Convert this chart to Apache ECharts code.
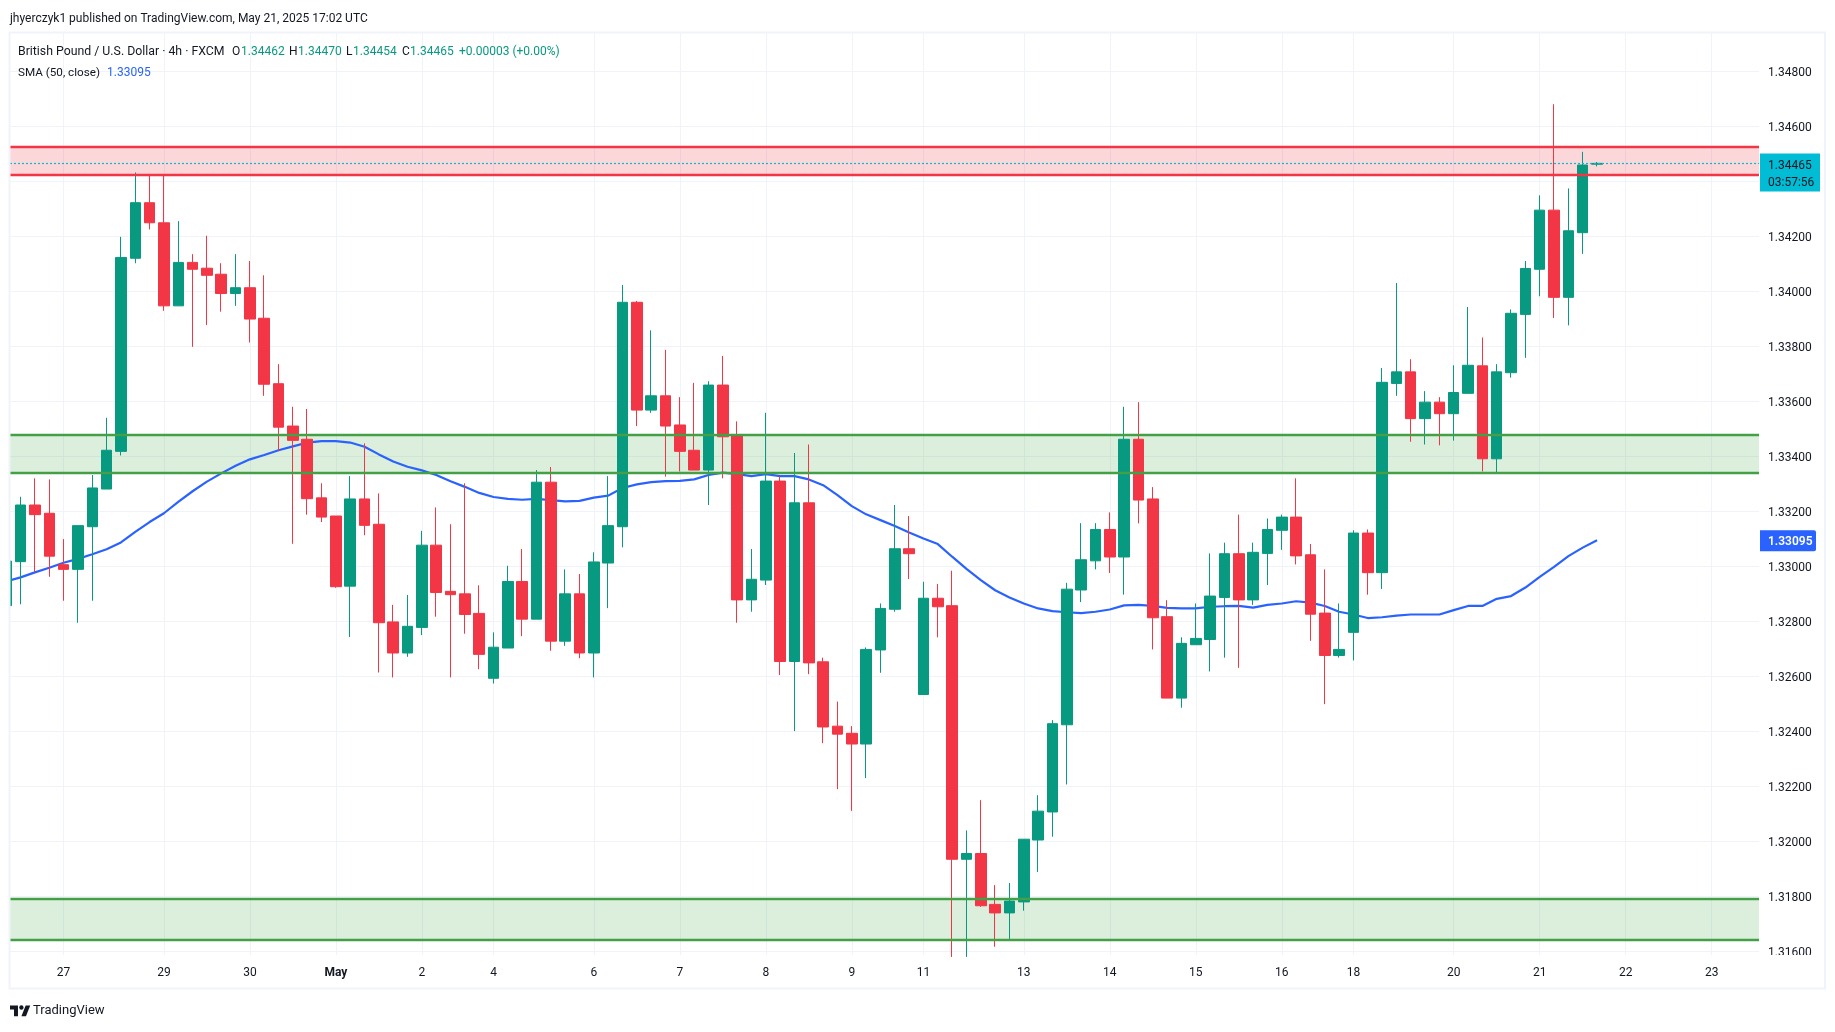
<!DOCTYPE html>
<html>
<head>
<meta charset="utf-8">
<title>GBPUSD 4h</title>
<style>
  html, body { margin: 0; padding: 0; background: #fff; }
  #chart { width: 1835px; height: 1032px; }
</style>
<script src="https://cdn.jsdelivr.net/npm/echarts@6/dist/echarts.min.js"></script>
</head>
<body>
<div id="chart"></div>
<script>
const opens = [
  1.32857, 1.33017, 1.33223, 1.33193, 1.33006, 1.32989, 1.33144, 1.33281, 1.33418, 1.34120,
  1.34322, 1.34249, 1.33947, 1.34105, 1.34084, 1.34062, 1.33992, 1.34013, 1.33902, 1.33664,
  1.33510, 1.33462, 1.33249, 1.33183, 1.32928, 1.33245, 1.33153, 1.32798, 1.32685, 1.32778,
  1.33077, 1.32909, 1.32900, 1.32829, 1.32593, 1.32703, 1.32945, 1.32808, 1.33306, 1.32728,
  1.32900, 1.32685, 1.33012, 1.33144, 1.33960, 1.33568, 1.33620, 1.33514, 1.33422, 1.33350,
  1.33659, 1.33475, 1.32878, 1.32950, 1.33310, 1.32654, 1.33231, 1.32653, 1.32419, 1.32393,
  1.32354, 1.32696, 1.32844, 1.33064, 1.32534, 1.32884, 1.32857, 1.31935, 1.31956, 1.31771,
  1.31740, 1.31780, 1.32005, 1.32107, 1.32424, 1.32914, 1.33020, 1.33134, 1.33034, 1.33462,
  1.33245, 1.32817, 1.32521, 1.32715, 1.32734, 1.32887, 1.33046, 1.32878, 1.33047, 1.33131,
  1.33179, 1.33042, 1.32830, 1.32676, 1.32760, 1.33121, 1.32977, 1.33665, 1.33707, 1.33537,
  1.33597, 1.33555, 1.33629, 1.33729, 1.33391, 1.33704, 1.33916, 1.34080, 1.34295, 1.33978,
  1.34213, 1.34462
];
const closes = [
  1.33019, 1.33223, 1.33188, 1.33037, 1.32989, 1.33148, 1.33285, 1.33422, 1.34123, 1.34322,
  1.34249, 1.33947, 1.34105, 1.34080, 1.34058, 1.33992, 1.34013, 1.33899, 1.33662, 1.33506,
  1.33458, 1.33246, 1.33179, 1.32926, 1.33245, 1.33149, 1.32795, 1.32685, 1.32782, 1.33077,
  1.32905, 1.32897, 1.32825, 1.32680, 1.32706, 1.32945, 1.32808, 1.33306, 1.32728, 1.32900,
  1.32685, 1.33016, 1.33148, 1.33960, 1.33568, 1.33620, 1.33510, 1.33418, 1.33350, 1.33659,
  1.33471, 1.32878, 1.32953, 1.33310, 1.32654, 1.33231, 1.32649, 1.32416, 1.32390, 1.32354,
  1.32698, 1.32847, 1.33064, 1.33046, 1.32884, 1.32853, 1.31935, 1.31956, 1.31766, 1.31740,
  1.31783, 1.32008, 1.32110, 1.32428, 1.32917, 1.33024, 1.33134, 1.33034, 1.33462, 1.33241,
  1.32813, 1.32521, 1.32720, 1.32738, 1.32892, 1.33046, 1.32878, 1.33051, 1.33134, 1.33179,
  1.33038, 1.32826, 1.32676, 1.32698, 1.33121, 1.32977, 1.33669, 1.33707, 1.33537, 1.33597,
  1.33555, 1.33632, 1.33731, 1.33391, 1.33707, 1.33920, 1.34083, 1.34295, 1.33978, 1.34220,
  1.34459, 1.34465
];
const lows = [
  1.32857, 1.32862, 1.32978, 1.32962, 1.32875, 1.32795, 1.32875, 1.33281, 1.33403, 1.34102,
  1.34225, 1.33929, 1.33947, 1.33798, 1.33877, 1.33926, 1.33947, 1.33814, 1.33620, 1.33419,
  1.33082, 1.33188, 1.33161, 1.32922, 1.32743, 1.33113, 1.32614, 1.32596, 1.32671, 1.32750,
  1.32817, 1.32596, 1.32755, 1.32626, 1.32574, 1.32703, 1.32746, 1.32808, 1.32693, 1.32711,
  1.32666, 1.32596, 1.32848, 1.33069, 1.33510, 1.33558, 1.33326, 1.33345, 1.33350, 1.33223,
  1.33320, 1.32795, 1.32835, 1.32932, 1.32605, 1.32401, 1.32608, 1.32357, 1.32190, 1.32111,
  1.32230, 1.32613, 1.32835, 1.32954, 1.32534, 1.32742, 1.31580, 1.31580, 1.31762, 1.31617,
  1.31645, 1.31748, 1.31889, 1.32017, 1.32207, 1.32870, 1.32989, 1.32976, 1.32897, 1.33156,
  1.32698, 1.32521, 1.32486, 1.32715, 1.32618, 1.32668, 1.32631, 1.32860, 1.32932, 1.33060,
  1.33007, 1.32729, 1.32499, 1.32668, 1.32658, 1.32897, 1.32918, 1.33620, 1.33453, 1.33443,
  1.33440, 1.33457, 1.33629, 1.33345, 1.33342, 1.33686, 1.33758, 1.33982, 1.33903, 1.33876,
  1.34136, 1.34454
];
const highs = [
  1.33019, 1.33253, 1.33320, 1.33316, 1.33099, 1.33148, 1.33332, 1.33540, 1.34198, 1.34432,
  1.34420, 1.34420, 1.34255, 1.34135, 1.34202, 1.34102, 1.34135, 1.34110, 1.34058, 1.33735,
  1.33580, 1.33572, 1.33302, 1.33183, 1.33328, 1.33447, 1.33265, 1.32860, 1.32896, 1.33129,
  1.33214, 1.33153, 1.33302, 1.32931, 1.32760, 1.33002, 1.33063, 1.33350, 1.33361, 1.32989,
  1.32972, 1.33051, 1.33328, 1.34023, 1.33965, 1.33858, 1.33787, 1.33615, 1.33667, 1.33673,
  1.33765, 1.33527, 1.33063, 1.33558, 1.33326, 1.33412, 1.33443, 1.32668, 1.32508, 1.32419,
  1.32705, 1.32865, 1.33223, 1.33183, 1.32944, 1.32936, 1.32984, 1.32040, 1.32150, 1.31841,
  1.31849, 1.32008, 1.32168, 1.32441, 1.32940, 1.33157, 1.33157, 1.33196, 1.33580, 1.33597,
  1.33288, 1.32877, 1.32742, 1.32865, 1.33047, 1.33086, 1.33188, 1.33086, 1.33174, 1.33188,
  1.33320, 1.33081, 1.32989, 1.32865, 1.33131, 1.33134, 1.33721, 1.34030, 1.33753, 1.33637,
  1.33615, 1.33731, 1.33943, 1.33832, 1.33735, 1.33934, 1.34110, 1.34349, 1.34680, 1.34374,
  1.34507, 1.34470
];
const smaValues = [
  1.32945, 1.32960, 1.32978, 1.32995, 1.33013, 1.33027, 1.33044, 1.33062, 1.33087, 1.33125,
  1.33161, 1.33193, 1.33234, 1.33273, 1.33308, 1.33338, 1.33366, 1.33389, 1.33405, 1.33422,
  1.33436, 1.33450, 1.33455, 1.33455, 1.33450, 1.33435, 1.33407, 1.33381, 1.33362, 1.33349,
  1.33332, 1.33309, 1.33289, 1.33267, 1.33252, 1.33245, 1.33242, 1.33245, 1.33241, 1.33236,
  1.33238, 1.33250, 1.33257, 1.33285, 1.33298, 1.33306, 1.33310, 1.33311, 1.33316, 1.33332,
  1.33341, 1.33335, 1.33328, 1.33335, 1.33328, 1.33328, 1.33316, 1.33295, 1.33259, 1.33219,
  1.33189, 1.33168, 1.33147, 1.33123, 1.33101, 1.33081, 1.33035, 1.32991, 1.32950, 1.32913,
  1.32887, 1.32865, 1.32847, 1.32837, 1.32833, 1.32830, 1.32835, 1.32843, 1.32858, 1.32860,
  1.32856, 1.32849, 1.32847, 1.32847, 1.32853, 1.32855, 1.32856, 1.32850, 1.32860, 1.32865,
  1.32873, 1.32868, 1.32856, 1.32835, 1.32825, 1.32812, 1.32815, 1.32821, 1.32825, 1.32825,
  1.32825, 1.32841, 1.32856, 1.32856, 1.32882, 1.32892, 1.32923, 1.32962, 1.32998, 1.33037,
  1.33068, 1.33095
];

const dateTicks = [4, 11, 17, 23, 29, 34, 41, 47, 53, 59, 64, 71, 77, 83, 89, 94, 101, 107, 113, 119];
const dateNames = ['27', '29', '30', 'May', '2', '4', '6', '7', '8', '9', '11', '13', '14', '15', '16', '18', '20', '21', '22', '23'];
const gridPrices = [1.316, 1.318, 1.32, 1.322, 1.324, 1.326, 1.328, 1.33, 1.332, 1.334, 1.336, 1.338, 1.34, 1.342, 1.344, 1.346, 1.348];
const labelPrices = gridPrices.filter(p => p !== 1.344);

const redZone = [1.34424, 1.34526];
const greenZoneHigh = [1.33342, 1.33480];
const greenZoneLow = [1.31642, 1.31792];
const lastPrice = 1.34465;
const lastSma = 1.33095;

const UP = '#089981';
const DOWN = '#f23645';
const BLUE = '#2962ff';
const CYAN = '#00bcd4';
const INK = '#131722';
const GRID = '#f0f3fa';
const FONT = 'Roboto, sans-serif';

const candles = opens.map((o, i) => [i, o, closes[i], lows[i], highs[i]]);
const sma = smaValues.map((v, i) => [i, v]);

function zoneArea(zone, color) {
  return [{ yAxis: zone[0], itemStyle: { color } }, { yAxis: zone[1] }];
}
function zoneLines(zone, color) {
  return zone.map(v => ({ yAxis: v, lineStyle: { color, width: 2.4, type: 'solid', opacity: 1 } }));
}

const chart = echarts.init(document.getElementById('chart'), null, { renderer: 'canvas' });

chart.setOption({
  animation: false,
  backgroundColor: '#ffffff',
  textStyle: { fontFamily: FONT },
  grid: { left: 10, right: 76, top: 33, bottom: 77, containLabel: false },
  xAxis: {
    type: 'value',
    min: 0.26,
    max: 122.3,
    axisLine: { show: false },
    axisTick: { show: false, customValues: dateTicks },
    splitLine: { show: true, lineStyle: { color: GRID, width: 1 } },
    axisLabel: {
      customValues: dateTicks,
      color: INK,
      fontSize: 12,
      margin: 12,
      hideOverlap: false,
      formatter: v => {
        const name = dateNames[dateTicks.indexOf(v)];
        return name === 'May' ? '{b|May}' : name;
      },
      rich: { b: { fontWeight: 700, fontSize: 12, color: INK } }
    }
  },
  yAxis: {
    type: 'value',
    position: 'right',
    min: 1.31587,
    max: 1.34939,
    scale: true,
    axisLine: { show: false },
    axisTick: { show: false, customValues: gridPrices },
    splitLine: { show: true, lineStyle: { color: GRID, width: 1 } },
    axisLabel: {
      customValues: labelPrices,
      color: INK,
      margin: 9,
      showMinLabel: true,
      showMaxLabel: true,
      formatter: v => '{p|' + v.toFixed(5) + '}',
      rich: { p: { fontSize: 12, color: INK, padding: [3, 0, 0, 0] } }
    }
  },
  series: [
    {
      name: 'zones',
      type: 'line',
      z: 1,
      silent: true,
      data: [],
      markArea: {
        silent: true,
        data: [
          zoneArea(redZone, 'rgba(242,54,69,0.2)'),
          zoneArea(greenZoneHigh, 'rgba(76,175,80,0.2)'),
          zoneArea(greenZoneLow, 'rgba(76,175,80,0.2)')
        ]
      },
      markLine: {
        silent: true,
        symbol: 'none',
        precision: 5,
        label: { show: false },
        data: [
          ...zoneLines(redZone, DOWN),
          ...zoneLines(greenZoneHigh, '#43a047'),
          ...zoneLines(greenZoneLow, '#43a047'),
          { yAxis: lastPrice, lineStyle: { color: CYAN, width: 1.2, type: [2, 2], opacity: 1 } }
        ]
      }
    },
    {
      name: 'SMA (50, close)',
      type: 'line',
      z: 2,
      data: sma,
      showSymbol: false,
      symbol: 'none',
      lineStyle: { color: BLUE, width: 2.2 }
    },
    {
      name: 'GBPUSD',
      type: 'candlestick',
      z: 3,
      barWidth: 11,
      encode: { x: 0, y: [1, 2, 3, 4] },
      data: candles,
      itemStyle: { color: UP, color0: DOWN, borderColor: UP, borderColor0: DOWN, borderWidth: 1 }
    }
  ]
});

const lastY = chart.convertToPixel({ yAxisIndex: 0 }, lastPrice);
const smaY = chart.convertToPixel({ yAxisIndex: 0 }, lastSma);

function label(x, y, text, fill, weight, size) {
  return {
    type: 'text', x, y, z: 20,
    style: { text, fill, font: (weight || 400) + ' ' + (size || 12) + 'px ' + FONT, verticalAlign: 'middle', align: 'left' }
  };
}

chart.setOption({
  graphic: [
    // the first candle hangs over the pane's left edge
    { type: 'rect', z: 9, shape: { x: 0, y: 33, width: 9.5, height: 922 }, style: { fill: '#fff' } },
    // the lowest price label is cut by the pane bottom
    { type: 'rect', z: 9, shape: { x: 1761, y: 955, width: 62, height: 32 }, style: { fill: '#fff' } },
    // frame around the pane and the axes
    { type: 'rect', z: 10, shape: { x: 9.5, y: 32.5, width: 1815.5, height: 956 }, style: { fill: 'transparent', stroke: GRID, lineWidth: 2 } },
    label(10, 19, 'jhyerczyk1 published on TradingView.com, May 21, 2025 17:02 UTC', INK),
    label(18, 52, 'British Pound / U.S. Dollar · 4h · FXCM', INK, 400, 12.3),
    label(232, 52, 'O', INK),
    label(241, 52, '1.34462', UP),
    label(289, 52, 'H', INK),
    label(298, 52, '1.34470', UP),
    label(346, 52, 'L', INK),
    label(353, 52, '1.34454', UP),
    label(402, 52, 'C', INK),
    label(410, 52, '1.34465', UP),
    label(459, 52, '+0.00003 (+0.00%)', UP),
    label(18, 73, 'SMA (50, close)', INK, 400, 11.7),
    label(107, 73, '1.33095', BLUE),
    // last price tag
    { type: 'rect', z: 15, shape: { x: 1760, y: lastY - 10, width: 60, height: 38 }, style: { fill: CYAN } },
    label(1768, lastY + 3, lastPrice.toFixed(5), INK),
    label(1768, lastY + 20, '03:57:56', INK),
    // SMA tag
    { type: 'rect', z: 15, shape: { x: 1760, y: smaY - 10, width: 56, height: 21, r: [0, 2, 2, 0] }, style: { fill: BLUE } },
    label(1768, smaY + 2, lastSma.toFixed(5), '#ffffff', 600),
    // TradingView mark
    {
      type: 'group', x: 10, y: 1003, scaleX: 0.57, scaleY: 0.6, z: 20,
      children: [
        { type: 'polygon', z: 20, shape: { points: [[0, 4], [14, 4], [14, 22], [7, 22], [7, 11], [0, 11]] }, style: { fill: INK } },
        { type: 'polygon', z: 20, shape: { points: [[20, 22], [28, 22], [35.5, 4], [27.5, 4]] }, style: { fill: INK } },
        { type: 'circle', z: 20, shape: { cx: 20, cy: 7.5, r: 3.8 }, style: { fill: INK } }
      ]
    },
    label(33, 1011, 'TradingView', INK, 400, 13)
  ]
});
</script>
</body>
</html>
